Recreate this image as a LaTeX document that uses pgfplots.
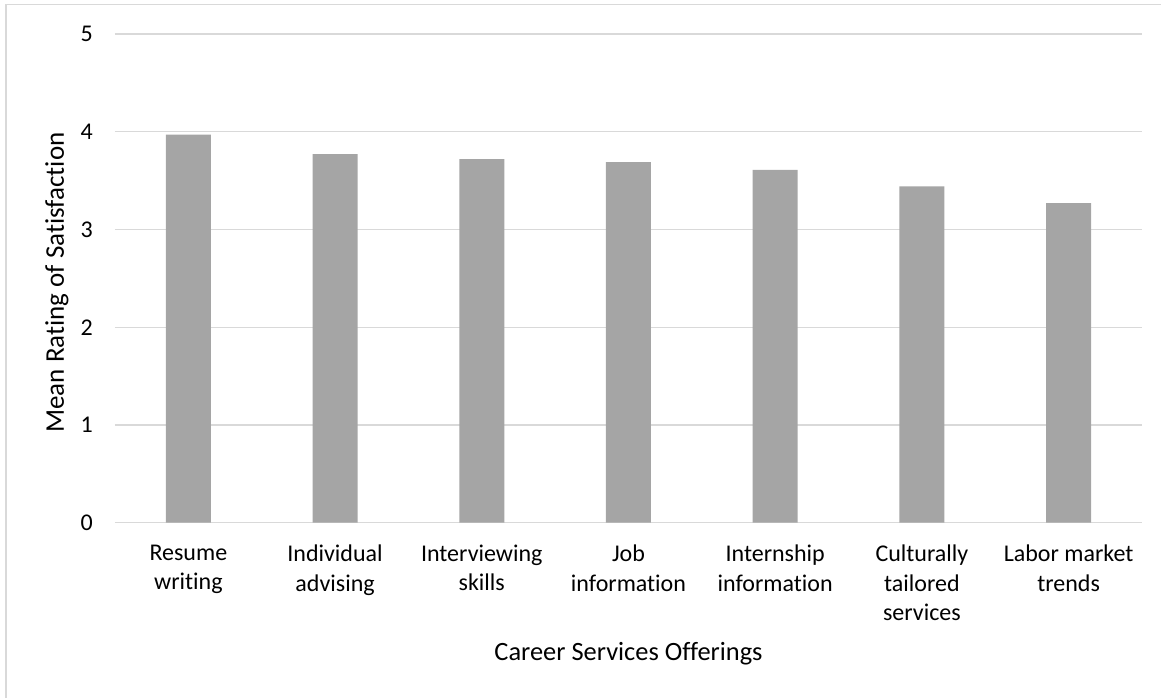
\documentclass[border=0pt]{standalone}
\usepackage{pgfplots}
\pgfplotsset{compat=1.18}
\usepackage{fontspec}
\setmainfont{Carlito}[Ligatures={NoCommon,NoRequired,NoContextual}]
\definecolor{barc}{HTML}{A5A5A5}
\definecolor{gridc}{HTML}{D9D9D9}
\begin{document}
\begin{tikzpicture}
\useasboundingbox (-115bp,-175.3bp) rectangle (1046bp,522.7bp);
\draw[gridc, line width=1.5bp] (-109bp,-176bp) -- (-109bp,518.2bp) -- (1047bp,518.2bp);
\begin{axis}[
  at={(0,0)}, anchor=south west,
  scale only axis, width=1027bp, height=488.7bp,
  xmin=-0.5, xmax=6.5, ymin=0, ymax=5,
  ytick={0,1,2,3,4,5},
  xtick=data,
  xticklabels={{Resume\\writing},{Individual\\advising},{Interviewing\\skills},{Job\\information},{Internship\\information},{Culturally\\tailored\\services},{Labor market\\trends}},
  axis line style={draw=none},
  major tick length=0pt,
  ymajorgrids, grid style={gridc, line width=1.3bp},
  /pgf/number format/assume math mode=true,
  yticklabel style={font=\fontsize{24bp}{29.5bp}\selectfont, anchor=east, inner sep=0pt, xshift=-22bp},
  xticklabel style={font=\fontsize{24bp}{29.5bp}\selectfont, anchor=north, inner sep=0pt, yshift=-22bp, align=center},
  xlabel={Career Services Offerings},
  ylabel={Mean Rating of Satisfaction},
  xlabel style={font=\fontsize{26.4bp}{31bp}\selectfont, at={(axis description cs:0.5,0)}, anchor=base, yshift=-137.3bp},
  ylabel style={font=\fontsize{27bp}{31bp}\selectfont, at={(axis description cs:-0.0497,0.4915)}, anchor=base},
  ybar, bar width=45bp,
]
\addplot[fill=barc, draw=none] coordinates {(0,3.97) (1,3.77) (2,3.72) (3,3.69) (4,3.61) (5,3.44) (6,3.27)};
\end{axis}
\end{tikzpicture}
\end{document}
